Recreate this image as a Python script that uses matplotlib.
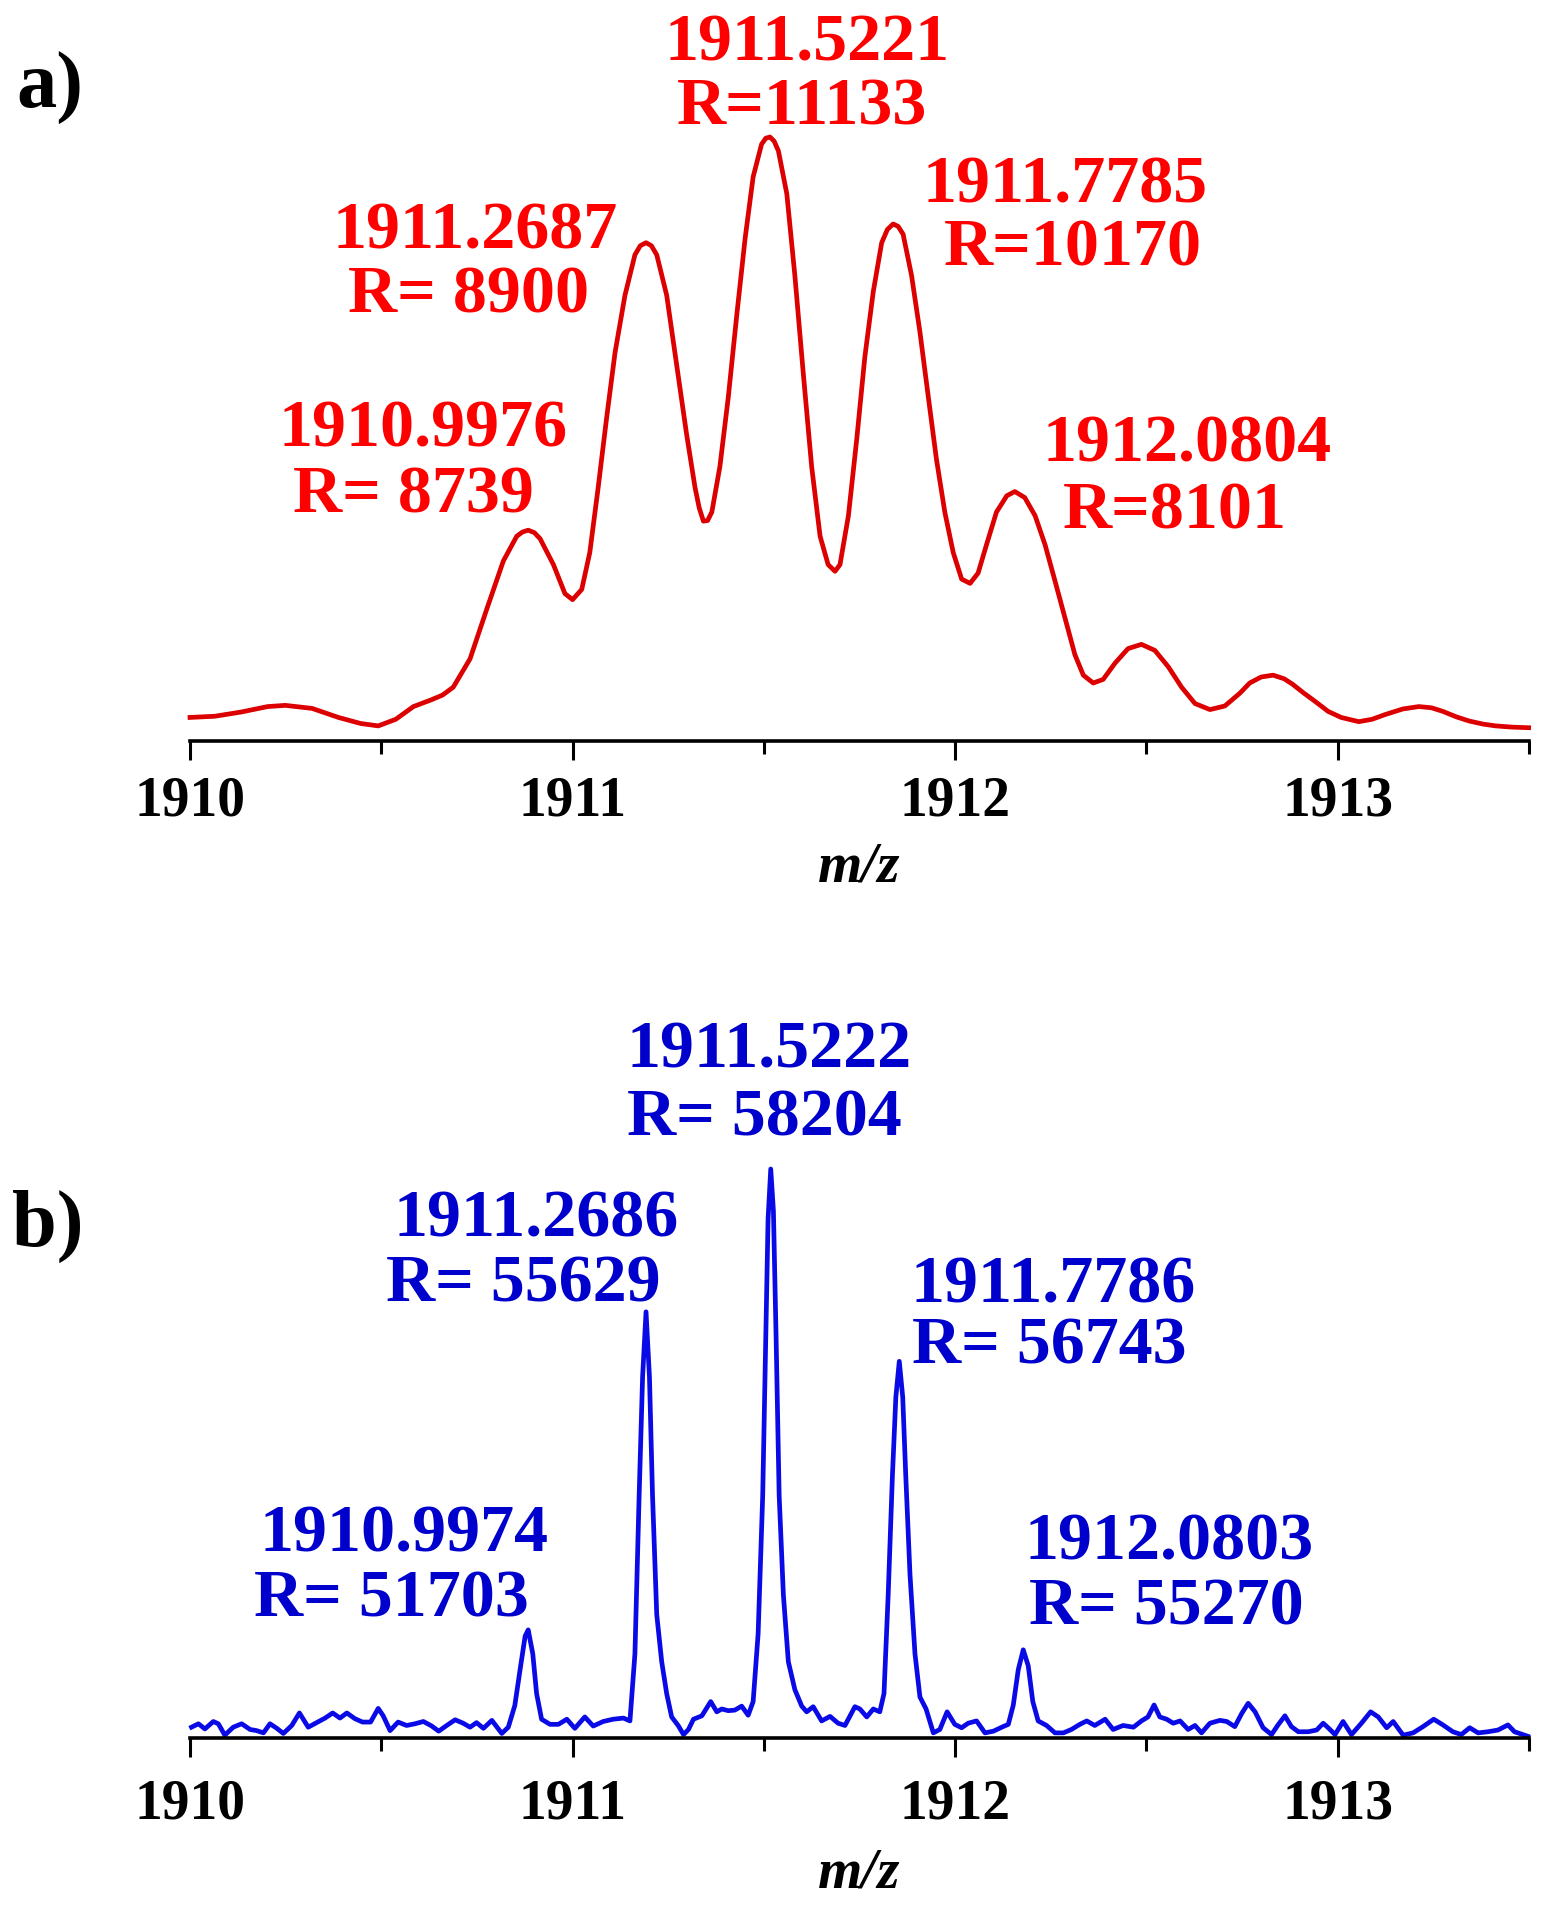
import matplotlib
matplotlib.use("Agg")
import matplotlib.pyplot as plt
from matplotlib.ticker import MultipleLocator

# ---------------------------------------------------------------
# Datos (m/z, intensidad relativa %)
# ---------------------------------------------------------------
# a) espectro de baja resolución (rojo)
top_mz = [
    1910.000, 1910.065, 1910.134, 1910.203, 1910.249, 1910.319, 1910.388,
    1910.446, 1910.492, 1910.538, 1910.584, 1910.630, 1910.660, 1910.688,
    1910.732, 1910.775, 1910.819, 1910.854, 1910.869, 1910.884, 1910.900,
    1910.915, 1910.950, 1910.980, 1911.000, 1911.024, 1911.045, 1911.067,
    1911.089, 1911.111, 1911.137, 1911.163, 1911.177, 1911.192, 1911.206,
    1911.220, 1911.246, 1911.272, 1911.298, 1911.320, 1911.331, 1911.342,
    1911.353, 1911.364, 1911.385, 1911.407, 1911.429, 1911.451, 1911.472,
    1911.494, 1911.505, 1911.516, 1911.527, 1911.538, 1911.560, 1911.581,
    1911.603, 1911.625, 1911.647, 1911.668, 1911.686, 1911.699, 1911.721,
    1911.743, 1911.764, 1911.786, 1911.808, 1911.823, 1911.838, 1911.851,
    1911.864, 1911.886, 1911.908, 1911.930, 1911.951, 1911.973, 1911.995,
    1912.017, 1912.039, 1912.060, 1912.082, 1912.108, 1912.135, 1912.156,
    1912.182, 1912.209, 1912.235, 1912.261, 1912.287, 1912.313, 1912.335,
    1912.361, 1912.387, 1912.418, 1912.452, 1912.487, 1912.522, 1912.557,
    1912.592, 1912.627, 1912.666, 1912.705, 1912.744, 1912.770, 1912.800,
    1912.831, 1912.860, 1912.882, 1912.910, 1912.940, 1912.975, 1913.009,
    1913.055, 1913.090, 1913.125, 1913.170, 1913.212, 1913.245, 1913.275,
    1913.310, 1913.344, 1913.380, 1913.413, 1913.455, 1913.499,
]
top_int = [
    3.9, 4.1, 4.8, 5.7, 5.9, 5.4, 3.9,
    2.9, 2.5, 3.6, 5.7, 6.8, 7.6, 8.9,
    13.6, 21.7, 29.8, 33.9, 34.6, 34.9, 34.5,
    33.5, 29.2, 24.4, 23.4, 25.1, 31.2, 42.0,
    53.5, 64.3, 73.8, 80.5, 82.0, 82.5, 82.0,
    80.5, 73.8, 62.3, 50.8, 42.0, 38.6, 36.4,
    36.5, 37.9, 45.4, 56.9, 70.4, 83.2, 93.4,
    98.8, 99.8, 100.0, 99.3, 97.7, 90.6, 77.1,
    60.9, 45.4, 33.9, 29.2, 28.1, 29.2, 37.3,
    50.1, 63.6, 74.4, 82.5, 84.7, 85.6, 85.2,
    83.9, 77.1, 67.7, 56.9, 46.7, 37.9, 31.2,
    26.8, 26.1, 27.8, 32.5, 37.9, 40.6, 41.3,
    40.3, 37.3, 32.5, 26.5, 20.4, 14.3, 10.9,
    9.6, 10.2, 12.9, 15.3, 16.0, 15.0, 12.3,
    8.9, 6.2, 5.2, 5.8, 7.9, 9.6, 10.6,
    10.9, 10.3, 9.4, 8.0, 6.6, 4.9, 3.9,
    3.2, 3.6, 4.4, 5.3, 5.7, 5.5, 4.9,
    4.0, 3.3, 2.8, 2.5, 2.3, 2.2,
]

# b) espectro de alta resolución (azul)
bot_mz = [
    1910.004, 1910.022, 1910.039, 1910.061, 1910.074, 1910.091, 1910.113,
    1910.135, 1910.157, 1910.174, 1910.192, 1910.209, 1910.227, 1910.244,
    1910.266, 1910.286, 1910.309, 1910.331, 1910.353, 1910.373, 1910.392,
    1910.410, 1910.431, 1910.451, 1910.472, 1910.492, 1910.505, 1910.523,
    1910.544, 1910.566, 1910.588, 1910.610, 1910.632, 1910.650, 1910.671,
    1910.693, 1910.714, 1910.732, 1910.749, 1910.767, 1910.789, 1910.815,
    1910.832, 1910.849, 1910.863, 1910.876, 1910.884, 1910.896, 1910.906,
    1910.919, 1910.941, 1910.963, 1910.985, 1911.006, 1911.032, 1911.054,
    1911.080, 1911.106, 1911.133, 1911.150, 1911.163, 1911.174, 1911.183,
    1911.192, 1911.201, 1911.209, 1911.220, 1911.233, 1911.246, 1911.259,
    1911.276, 1911.290, 1911.303, 1911.316, 1911.338, 1911.361, 1911.377,
    1911.390, 1911.407, 1911.424, 1911.442, 1911.459, 1911.472, 1911.485,
    1911.497, 1911.505, 1911.511, 1911.518, 1911.525, 1911.532, 1911.540,
    1911.551, 1911.564, 1911.581, 1911.599, 1911.612, 1911.629, 1911.651,
    1911.673, 1911.694, 1911.712, 1911.738, 1911.751, 1911.769, 1911.786,
    1911.803, 1911.814, 1911.825, 1911.836, 1911.845, 1911.854, 1911.863,
    1911.871, 1911.882, 1911.895, 1911.908, 1911.924, 1911.943, 1911.960,
    1911.979, 1911.999, 1912.017, 1912.034, 1912.056, 1912.078, 1912.100,
    1912.122, 1912.139, 1912.152, 1912.165, 1912.178, 1912.191, 1912.203,
    1912.217, 1912.239, 1912.261, 1912.283, 1912.304, 1912.326, 1912.344,
    1912.365, 1912.392, 1912.413, 1912.439, 1912.466, 1912.487, 1912.504,
    1912.520, 1912.535, 1912.553, 1912.570, 1912.588, 1912.609, 1912.627,
    1912.644, 1912.666, 1912.692, 1912.710, 1912.731, 1912.749, 1912.766,
    1912.784, 1912.805, 1912.827, 1912.844, 1912.862, 1912.879, 1912.897,
    1912.923, 1912.945, 1912.962, 1912.975, 1912.993, 1913.014, 1913.036,
    1913.062, 1913.086, 1913.106, 1913.128, 1913.145, 1913.171, 1913.197,
    1913.223, 1913.251, 1913.275, 1913.301, 1913.323, 1913.345, 1913.367,
    1913.393, 1913.419, 1913.445, 1913.462, 1913.484, 1913.497,
]
bot_int = [
    1.9, 2.5, 1.6, 2.9, 2.5, 0.5, 1.9,
    2.5, 1.5, 1.3, 0.9, 2.5, 1.7, 0.8,
    2.2, 4.4, 1.9, 2.7, 3.5, 4.4, 3.5,
    4.4, 3.4, 2.8, 2.8, 5.2, 3.9, 1.3,
    2.8, 2.2, 2.5, 2.9, 2.1, 1.2, 2.2,
    3.2, 2.6, 1.9, 2.7, 1.7, 3.1, 0.8,
    1.9, 5.7, 12.1, 17.9, 19.0, 14.8, 7.8,
    3.3, 2.4, 2.4, 3.3, 1.7, 3.7, 2.1,
    2.9, 3.3, 3.5, 3.0, 14.8, 42.6, 63.4,
    74.9, 63.4, 42.6, 21.7, 13.4, 7.8, 3.7,
    2.2, 0.6, 1.5, 3.3, 3.9, 6.4, 4.6,
    5.1, 4.8, 4.9, 5.6, 4.0, 6.4, 18.3,
    42.6, 70.4, 91.2, 100.0, 92.6, 70.4, 42.6,
    25.2, 13.4, 8.5, 5.6, 4.6, 5.5, 3.0,
    3.8, 2.6, 2.2, 5.5, 5.1, 3.7, 5.1,
    4.6, 7.8, 25.2, 46.0, 59.9, 66.2, 59.9,
    46.0, 28.7, 14.8, 7.2, 5.1, 0.9, 1.5,
    4.6, 2.4, 1.8, 2.6, 3.0, 0.9, 1.2,
    1.9, 2.4, 5.8, 12.0, 15.5, 12.7, 6.4,
    3.0, 2.2, 0.9, 0.9, 1.5, 2.4, 3.0,
    2.2, 3.3, 1.5, 2.2, 1.9, 3.0, 3.7,
    5.8, 3.7, 3.3, 2.6, 3.0, 1.5, 2.2,
    0.9, 2.6, 3.1, 2.9, 2.0, 4.3, 6.1,
    4.6, 1.8, 0.6, 2.3, 3.9, 2.0, 1.1,
    1.1, 1.4, 2.6, 1.8, 0.6, 2.9, 0.6,
    2.6, 4.6, 3.7, 1.8, 2.9, 0.5, 0.9,
    2.0, 3.3, 2.3, 1.1, 0.6, 1.8, 0.9,
    1.1, 1.4, 2.3, 1.1, 0.6, 0.3,
]

# etiquetas de picos: masa exacta y resolución
top_mass = ["1911.5221", "1911.2687", "1911.7785", "1910.9976", "1912.0804"]
top_res = ["R=11133", "R= 8900", "R=10170", "R= 8739", "R=8101"]
bot_mass = ["1911.5222", "1911.2686", "1911.7786", "1910.9974", "1912.0803"]
bot_res = ["R= 58204", "R= 55629", "R= 56743", "R= 51703", "R= 55270"]

tick_vals = [1910, 1911, 1912, 1913]

# posición de cada etiqueta (x línea 1, base línea 1, x línea 2, base línea 2)
top_lab_pos = [(1911.613, 112.6, 1911.601, 102.0),
               (1910.744, 81.5, 1910.728, 71.0),
               (1912.288, 89.2, 1912.307, 78.7),
               (1910.610, 48.7, 1910.585, 37.9),
               (1912.607, 46.2, 1912.575, 35.1)]
bot_lab_pos = [(1911.514, 117.8, 1911.501, 105.8),
               (1910.904, 88.2, 1910.872, 76.8),
               (1912.256, 76.6, 1912.246, 65.8),
               (1910.559, 32.7, 1910.527, 21.3),
               (1912.559, 31.4, 1912.553, 20.0)]

SERIF = ["Liberation Serif", "DejaVu Serif"]
RED_LINE, RED_TXT = "#dc0000", "#ff0000"
BLUE_LINE, BLUE_TXT = "#0a0ae6", "#0000cd"

fig = plt.figure(figsize=(15.56, 19.2), dpi=100)
W, H = 1556, 1920


def make_axes(y_axis_px, y_top_px):
    left, right = 190, 1529
    return fig.add_axes([left / W, 1 - y_axis_px / H,
                         (right - left) / W, (y_axis_px - y_top_px) / H])


def style_axes(ax, label_y, pad):
    ax.set_xlim(1910, 1913.5)
    ax.set_ylim(0, 100)
    for s in ("top", "left", "right"):
        ax.spines[s].set_visible(False)
    ax.spines["bottom"].set_linewidth(2.6)
    ax.yaxis.set_visible(False)
    ax.set_xticks(tick_vals)
    ax.xaxis.set_minor_locator(MultipleLocator(0.5))
    ax.tick_params(axis="x", which="major", direction="out", length=14,
                   width=2.2, pad=pad)
    ax.tick_params(axis="x", which="minor", direction="out", length=9,
                   width=2.2)
    for t in ax.get_xticklabels():
        t.set_family(SERIF)
        t.set_fontweight("bold")
        t.set_fontsize(40)
    ax.text(0.5, label_y, "m/z", transform=ax.transAxes, ha="center",
            va="baseline", family=SERIF, fontsize=41, fontweight="bold",
            style="italic")


def peak_labels(ax, masses, res, pos, color):
    for m, r, (x1, y1, x2, y2) in zip(masses, res, pos):
        ax.text(x1, y1, m, ha="center", va="baseline", color=color,
                family=SERIF, fontweight="bold", fontsize=49, clip_on=False)
        ax.text(x2, y2, r, ha="center", va="baseline", color=color,
                family=SERIF, fontweight="bold", fontsize=49, clip_on=False)


# ---- a) ----
ax1 = make_axes(741, 137)
ax1.plot(top_mz, top_int, color=RED_LINE, lw=3.4, solid_joinstyle="round",
         clip_on=False)
style_axes(ax1, -0.232, 11)
peak_labels(ax1, top_mass, top_res, top_lab_pos, RED_TXT)

# ---- b) ----
ax2 = make_axes(1738, 1169)
ax2.plot(bot_mz, bot_int, color=BLUE_LINE, lw=3.4, solid_joinstyle="round",
         clip_on=False)
style_axes(ax2, -0.262, 15)
peak_labels(ax2, bot_mass, bot_res, bot_lab_pos, BLUE_TXT)

fig.text(16 / W, 1 - 108 / H, "a)", ha="left", va="baseline", family=SERIF,
         fontweight="bold", fontsize=58)
fig.text(12 / W, 1 - 1246 / H, "b)", ha="left", va="baseline", family=SERIF,
         fontweight="bold", fontsize=58)

fig.savefig("out.png", dpi=100, facecolor="white")
